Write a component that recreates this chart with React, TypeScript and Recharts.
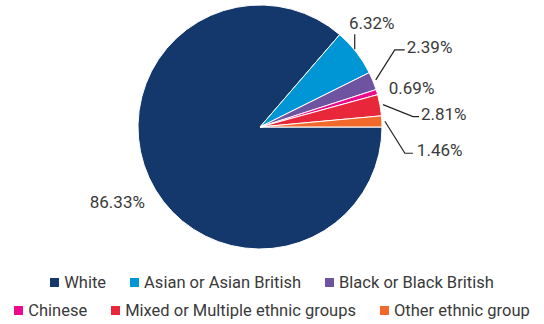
import { PieChart, Pie, Cell, Legend } from "recharts";

const groups = [
  "White",
  "Asian or Asian British",
  "Black or Black British",
  "Chinese",
  "Mixed or Multiple ethnic groups",
  "Other ethnic group",
];
const shares = [86.33, 6.32, 2.39, 0.69, 2.81, 1.46];
const colors = ["#14386c", "#0096d6", "#6e53a1", "#ec0b8d", "#e8283a", "#f26a2b"];

const chartData = groups.map((name, i) => ({ name, value: shares[i] }));

const RAD = Math.PI / 180;
const textColor = "#3a3a3a";
const font = "Roboto, 'Open Sans', sans-serif";

// label placement per slice, relative to the slice's outer edge
type LabelStyle = { kind: "none" | "up" | "elbow"; dx: number; dy: number; run: number; off: number };
const labelStyles: LabelStyle[] = [
  { kind: "none", dx: -29, dy: 23, run: 0, off: 0 },
  { kind: "up", dx: -4, dy: -16, run: 0, off: 0 },
  { kind: "elbow", dx: 19, dy: -30, run: 10, off: 2 },
  { kind: "none", dx: 9, dy: -3, run: 0, off: 0 },
  { kind: "elbow", dx: 30, dy: 12, run: 6, off: 2 },
  { kind: "elbow", dx: 20, dy: 32, run: 8, off: 4 },
];

function renderLabel(props: any) {
  const { cx, cy, midAngle, outerRadius, index, value } = props;
  const cos = Math.cos(-midAngle * RAD);
  const sin = Math.sin(-midAngle * RAD);
  const ex = cx + (outerRadius + 3) * cos;
  const ey = cy + (outerRadius + 3) * sin;
  const s = labelStyles[index];
  const text = `${value.toFixed(2)}%`;
  const style = { fontFamily: font, fontSize: 17, fill: textColor };
  if (s.kind === "none") {
    return (
      <text key={index} x={ex + s.dx} y={ey + s.dy} textAnchor={s.dx < 0 ? "middle" : "start"} dominantBaseline="central" style={style}>
        {text}
      </text>
    );
  }
  if (s.kind === "up") {
    const x = ex + s.dx;
    return (
      <g key={index}>
        <line x1={x} y1={ey - 1} x2={x} y2={ey + s.dy} stroke="#222" strokeWidth={1.2} />
        <text x={x + 17} y={ey + s.dy - 11} textAnchor="middle" dominantBaseline="central" style={style}>
          {text}
        </text>
      </g>
    );
  }
  const mx = ex + s.dx;
  const my = ey + s.dy;
  const hx = mx + s.run;
  return (
    <g key={index}>
      <polyline points={`${ex},${ey} ${mx},${my} ${hx},${my}`} fill="none" stroke="#222" strokeWidth={1.2} />
      <text x={hx + s.off} y={my - 3} textAnchor="start" dominantBaseline="central" style={style}>
        {text}
      </text>
    </g>
  );
}

function renderLegend() {
  const rows = [groups.slice(0, 3), groups.slice(3)];
  return (
    <div style={{ fontFamily: font, fontSize: 16.5, color: textColor }}>
      {rows.map((row, r) => (
        <div
          key={r}
          style={{ display: "flex", justifyContent: "center", gap: 24, height: 28, alignItems: "center", whiteSpace: "nowrap" }}
        >
          {row.map((name) => {
            const i = groups.indexOf(name);
            return (
              <span key={name} style={{ display: "flex", alignItems: "center" }}>
                <span style={{ width: 9, height: 9, background: colors[i], marginRight: 5, display: "inline-block" }} />
                {name}
              </span>
            );
          })}
        </div>
      ))}
    </div>
  );
}

export default function App() {
  return (
    <div style={{ position: "absolute", left: 0, top: 0, width: 544, height: 324, background: "#fff" }}>
      <PieChart width={544} height={324} margin={{ top: 0, right: 0, bottom: 0, left: 0 }}>
        <Pie
          data={chartData}
          dataKey="value"
          nameKey="name"
          cx={260}
          cy={127}
          outerRadius={122}
          startAngle={0}
          endAngle={-360}
          stroke="#fff"
          strokeWidth={1}
          label={renderLabel}
          labelLine={false}
          isAnimationActive={false}
        >
          {chartData.map((d, i) => (
            <Cell key={d.name} fill={colors[i]} />
          ))}
        </Pie>
        <Legend content={renderLegend} wrapperStyle={{ top: 268, left: 0, width: 544 }} />
      </PieChart>
    </div>
  );
}
